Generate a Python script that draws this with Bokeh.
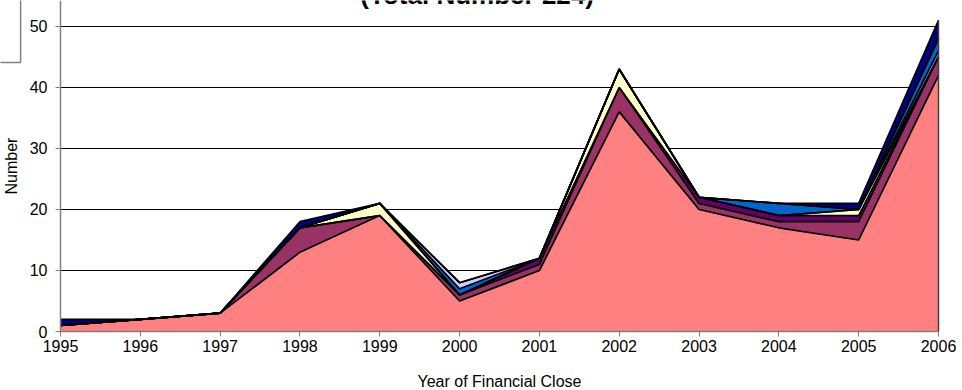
from bokeh.plotting import figure
from bokeh.models import ColumnDataSource, Range1d, FixedTicker, Label
from bokeh.embed import file_html
from bokeh.resources import INLINE

# Projects reaching financial close per year, stacked by category
years = [1995, 1996, 1997, 1998, 1999, 2000, 2001, 2002, 2003, 2004, 2005, 2006]
cat_1 = [1, 2, 3, 13, 19, 5, 10, 36, 20, 17, 15, 42]
cat_2 = [0, 0, 0, 4, 0, 1, 1, 4, 1, 1, 3, 3]
cat_3 = [0, 0, 0, 0, 0, 0, 1, 0, 1, 1, 1, 0]
cat_4 = [0, 0, 0, 0, 2, 0, 0, 3, 0, 0, 1, 0]
cat_5 = [0, 0, 0, 0, 0, 0, 0, 0, 0, 0, 0, 1]
cat_6 = [0, 0, 0, 0, 0, 1, 0, 0, 0, 2, 0, 2]
cat_7 = [0, 0, 0, 0, 0, 1, 0, 0, 0, 0, 0, 0]
cat_8 = [1, 0, 0, 1, 0, 0, 0, 0, 0, 0, 1, 3]

y_ticks = [0, 10, 20, 30, 40, 50]

names = ["cat_1", "cat_2", "cat_3", "cat_4", "cat_5", "cat_6", "cat_7", "cat_8"]
series = [cat_1, cat_2, cat_3, cat_4, cat_5, cat_6, cat_7, cat_8]
colors = ["#FF8080", "#993366", "#660066", "#FFFFCC",
          "#9999FF", "#0066CC", "#CCCCFF", "#000080"]

totals = [sum(v) for v in zip(*series)]
total = sum(totals)

data = {"year": years}
for n, s in zip(names, series):
    data[n] = s
source = ColumnDataSource(data)

FONT = "Liberation Sans"

# geometry: the frame fills the canvas; the axes sit at fixed data locations
W, H = 962, 390
LEFT_GAP, RIGHT_GAP = 60, 24      # px beside the first / last year
TOP_Y = 54.26                      # value at the top edge
BOTTOM_GAP = 59                    # px below the zero line
px_per_year = (W - RIGHT_GAP - LEFT_GAP) / (years[-1] - years[0])
px_per_unit = (H - BOTTOM_GAP) / TOP_Y
x_start = years[0] - LEFT_GAP / px_per_year
x_end = years[-1] + RIGHT_GAP / px_per_year
y_start = -BOTTOM_GAP / px_per_unit

p = figure(width=W, height=H, output_backend="svg", toolbar_location=None,
           x_range=Range1d(x_start, x_end), y_range=Range1d(y_start, TOP_Y),
           min_border=0,
           background_fill_color="white", border_fill_color="white")
p.outline_line_color = None
p.xgrid.grid_line_color = None
p.ygrid.grid_line_color = None

# horizontal gridlines across the year span only
p.segment(x0=years[0], x1=years[-1], y0=y_ticks, y1=y_ticks,
          line_color="black", line_width=1)

# stacked areas with black outlines along each cumulative top
p.varea_stack(names, x="year", color=colors, source=source)
p.vline_stack(names, x="year", color="black", line_width=1.7, source=source)
p.segment(x0=years[-1], y0=0, x1=years[-1], y1=totals[-1],
          line_color="#404040", line_width=1.5)

# legend frame at the top-left corner
p.quad(left=x_start - 2, right=1994.5, bottom=44.1, top=60,
       fill_color="white", line_color="#808080", line_width=1.5)

# axes
p.xaxis.ticker = FixedTicker(ticks=years)
p.yaxis.ticker = FixedTicker(ticks=y_ticks)
p.xaxis.bounds = (years[0], years[-1])
p.yaxis.bounds = (0, TOP_Y)
p.xaxis.fixed_location = 0
p.yaxis.fixed_location = years[0]
p.xaxis.minor_tick_line_color = None
p.yaxis.minor_tick_line_color = None
for ax in (p.xaxis, p.yaxis):
    ax.axis_line_color = "#808080"
    ax.axis_line_width = 1.5
    ax.major_tick_line_color = "#808080"
    ax.major_tick_out = 5
    ax.major_tick_in = 0
    ax.major_label_text_font = FONT
    ax.major_label_text_font_size = "16px"
    ax.major_label_text_color = "black"
    ax.axis_label_text_font = FONT
    ax.axis_label_text_font_size = "16px"
    ax.axis_label_text_font_style = "normal"
    ax.axis_label_text_color = "black"

p.xaxis.axis_label = "Year of Financial Close"
p.yaxis.axis_label = "Number"
p.xaxis.major_label_standoff = 3
p.xaxis.axis_label_standoff = 18
p.yaxis.major_label_standoff = 8
p.yaxis.axis_label_standoff = 7

# chart title, sitting at the very top edge
p.add_layout(Label(x=2000.22, y=55.15, text=f"(Total Number {total})",
                   text_font=FONT, text_font_size="26px", text_font_style="bold",
                   text_align="center", text_baseline="alphabetic",
                   text_color="black"))

open("out.html", "w").write(file_html(p, INLINE))
